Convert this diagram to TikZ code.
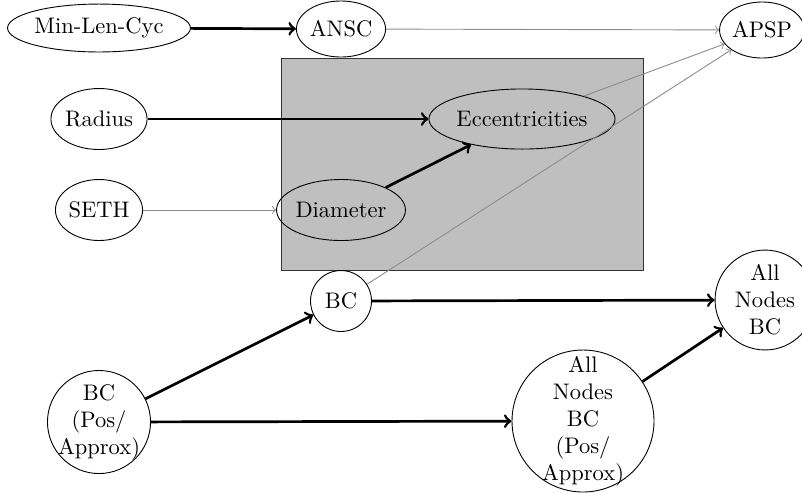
\documentclass[tikz,border=0pt]{standalone}
\usetikzlibrary{shapes.geometric}
\begin{document}
\begin{tikzpicture}[x=0.4444pt,y=-0.4444pt,
  ell/.style={draw,ellipse,inner sep=0pt},
  circ/.style={draw,circle,inner sep=0pt,align=center},
  txt/.style={inner sep=0pt,align=center},
  strong/.style={->,very thick},
  weak/.style={->,thin,draw=black!45}]
\useasboundingbox (0,0) rectangle (802,492);
\draw[fill=black!25,draw=black!80] (281,58) rectangle (643,270);
\node[ell,minimum width=81.3pt,minimum height=21.3pt] (mlc) at (99,28) {Min-Len-Cyc};
\node[ell,minimum width=39.6pt,minimum height=24.9pt] (ansc) at (341,29) {ANSC};
\node[ell,minimum width=35.6pt,minimum height=24.9pt] (apsp) at (762,30) {APSP};
\node[ell,minimum width=42.7pt,minimum height=27.1pt] (radius) at (99,119) {Radius};
\node[ell,minimum width=38.7pt,minimum height=27.1pt] (seth) at (99,210) {SETH};
\node[ell,minimum width=82.7pt,minimum height=26.7pt] (ecc) at (522,119) {Eccentricities};
\node[ell,minimum width=57.3pt,minimum height=27.1pt] (diam) at (341,210) {Diameter};
\node[circ,minimum size=27.1pt] (bc) at (341,301) {BC};
\node[circ,minimum size=45.8pt] (bcpos) at (99,422) {};
\node[txt] (bcpostext) at (bcpos.center) {BC\\(Pos/\\Approx)};
\node[circ,minimum size=63.1pt] (anbcpos) at (583,421) {};
\node[txt] (anbcpostext) at (anbcpos.center) {All\\Nodes\\BC\\(Pos/\\Approx)};
\node[circ,minimum size=44.4pt] (anbc) at (765,300) {All\\Nodes\\BC};
\draw[strong] (mlc) -- (ansc);
\draw[weak] (ansc) -- (apsp);
\draw[strong] (radius) -- (ecc);
\draw[weak] (seth) -- (diam);
\draw[strong] (diam) -- (ecc);
\draw[weak] (ecc) -- (apsp);
\draw[weak] (bc) -- (apsp);
\draw[strong] (bcpos) -- (bc);
\draw[strong] (bcpos) -- (anbcpos);
\draw[strong] (bc) -- (anbc);
\draw[strong] (anbcpos) -- (anbc);
\end{tikzpicture}
\end{document}
